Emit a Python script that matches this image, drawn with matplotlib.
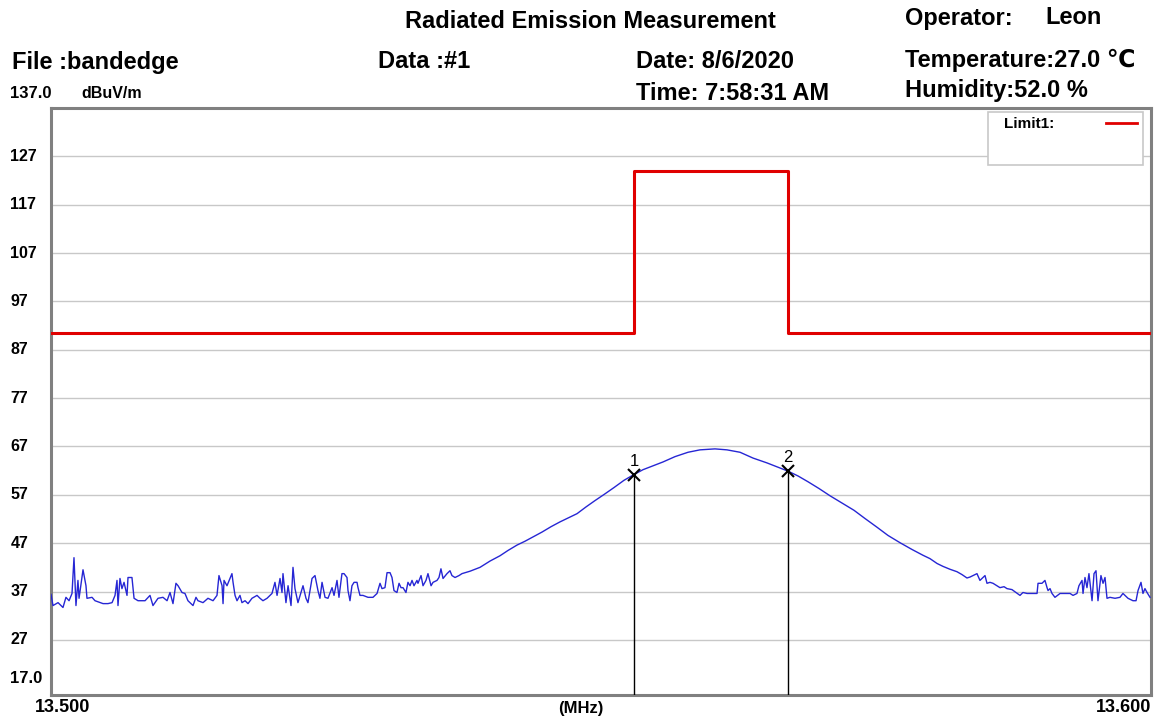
import matplotlib
matplotlib.use("Agg")
import matplotlib.pyplot as plt
import numpy as np

plt.rcParams["font.family"] = ["Liberation Sans", "DejaVu Sans"]

# measured trace: frequency offset from 13.500 MHz (kHz) and level (dBuV/m)
trace_khz = [
    0.00, 0.18, 0.64, 1.09, 1.36, 1.64, 1.91, 2.09, 2.27, 2.45, 2.55, 2.91, 3.18, 3.27,
    3.73, 4.00, 4.73, 5.18, 5.55, 5.82, 6.00, 6.09, 6.27, 6.45, 6.64, 6.91, 7.00, 7.36,
    7.55, 7.91, 8.55, 9.00, 9.27, 9.73, 10.18, 10.55, 10.82, 11.09, 11.36, 11.55, 11.91,
    12.18, 12.45, 12.91, 13.18, 13.36, 13.82, 14.27, 14.73, 15.09, 15.27, 15.55, 15.64,
    15.73, 16.00, 16.27, 16.45, 16.55, 16.73, 16.91, 17.18, 17.36, 17.64, 17.91, 18.27,
    18.73, 19.00, 19.27, 19.64, 20.09, 20.36, 20.55, 20.82, 21.00, 21.09, 21.36, 21.55,
    21.82, 22.00, 22.18, 22.45, 22.91, 23.18, 23.36, 23.73, 24.00, 24.27, 24.45, 24.64,
    24.91, 25.18, 25.55, 25.73, 26.00, 26.18, 26.45, 26.64, 26.91, 27.00, 27.18, 27.36,
    27.55, 27.82, 27.91, 28.09, 28.36, 28.82, 29.27, 29.64, 29.91, 30.09, 30.36, 30.55,
    30.82, 31.00, 31.18, 31.45, 31.64, 31.82, 32.00, 32.27, 32.45, 32.64, 32.82, 33.00,
    33.27, 33.36, 33.64, 33.82, 34.09, 34.27, 34.55, 34.73, 35.09, 35.27, 35.45, 35.64,
    36.00, 36.27, 36.45, 36.73, 37.09, 37.36,
    38.09, 39.00, 39.91, 40.82, 41.55, 42.36, 43.09, 43.91, 44.64, 45.45, 46.27, 47.00,
    47.82, 48.64, 49.45, 50.36, 51.18, 52.09, 53.00, 53.82, 54.73, 55.64, 56.73, 57.91,
    59.00, 60.36, 61.45, 62.64, 63.82, 65.09, 66.09, 67.00, 67.91, 68.82, 69.82, 70.82,
    71.91, 73.00, 74.00, 75.09, 76.09, 77.18, 78.27, 79.27, 79.91, 80.55, 81.09, 81.73,
    82.36, 82.82, 83.27, 83.55, 83.82, 84.18, 84.45, 84.91, 85.09, 85.36, 85.64, 86.00,
    86.27, 86.64, 86.91, 87.36, 87.73, 88.09, 88.36, 88.73, 89.18, 89.64, 89.73, 90.09,
    90.36, 90.55, 90.64, 90.82, 91.00, 91.27, 91.73, 92.18, 92.64, 92.91, 93.27, 93.45,
    93.73, 93.82, 94.00, 94.18, 94.36, 94.64, 94.82, 95.00, 95.18, 95.45, 95.64, 95.82,
    96.00, 96.27, 96.73, 97.18, 97.45, 97.91, 98.36, 98.64, 98.82, 99.09, 99.27, 99.45,
    99.64, 99.91,
]
trace_level = [
    36.4, 34.1, 34.7, 33.7, 35.8, 35.1, 36.6, 44.0, 34.1, 39.3, 35.6, 41.5, 38.2, 35.6,
    35.8, 35.1, 34.5, 34.5, 34.7, 36.2, 39.3, 34.1, 39.7, 37.6, 38.9, 36.2, 39.9, 39.9,
    35.6, 35.1, 35.1, 36.2, 34.1, 35.6, 35.8, 35.1, 36.8, 34.5, 38.7, 38.2, 36.8,
    36.6, 35.1, 34.1, 35.8, 35.1, 34.7, 35.6, 35.1, 36.2, 40.3, 38.2, 34.5,
    39.3, 38.2, 39.7, 40.7, 38.9, 36.2, 35.1, 36.2, 34.7, 35.1, 34.5, 35.6,
    36.2, 35.6, 35.1, 35.6, 36.6, 38.9, 36.2, 39.7, 36.8, 40.7, 34.7, 38.2,
    34.1, 42.0, 37.6, 34.7, 38.2, 35.6, 34.7, 39.7, 40.3, 37.2, 35.6, 38.9,
    35.8, 35.6, 37.8, 36.2, 39.3, 35.8, 40.7, 40.7, 39.9, 37.2, 35.1, 38.2,
    38.9, 38.9, 37.8, 36.2, 36.2, 35.8, 35.8, 36.6, 38.7, 37.6, 37.8, 40.9,
    40.9, 39.9, 37.2, 36.8, 38.7, 37.8, 37.8, 36.8, 38.9, 38.2, 39.3, 38.2,
    39.3, 38.7, 40.3, 38.2, 39.3, 40.7, 38.2, 38.9, 39.3, 39.9, 41.7, 39.7,
    40.7, 41.3, 40.3, 39.9, 40.3, 40.7,
    41.2, 42.0, 43.3, 44.4, 45.5, 46.6, 47.4, 48.4, 49.3, 50.4, 51.4, 52.2,
    53.1, 54.5, 55.8, 57.2, 58.5, 60.0, 61.2, 62.2, 63.0, 63.8, 64.9, 65.8,
    66.3, 66.5, 66.3, 65.8, 64.6, 63.6, 62.7, 61.9, 60.9, 59.7, 58.3, 56.8,
    55.3, 53.8, 52.1, 50.3, 48.6, 47.1, 45.7, 44.5, 43.8, 42.8, 42.2, 41.6,
    41.1, 40.5, 39.8, 40.0, 40.3, 40.7, 39.3, 40.3, 38.7, 38.9, 38.7, 38.2,
    37.8, 38.0, 37.6, 37.4, 36.8, 36.2, 36.8, 36.6, 36.6, 36.6, 38.7, 38.7,
    39.3, 37.8, 37.2, 37.6, 36.6, 35.8, 36.6, 36.6, 36.6, 36.2, 36.6, 38.2,
    39.3, 36.6, 39.9, 37.8, 40.7, 35.1, 40.7, 41.3, 35.1, 40.3, 38.7, 39.9,
    35.6, 35.8, 35.6, 35.8, 36.6, 35.6, 35.1, 35.1, 37.2, 38.9, 36.6, 37.6,
    36.8, 35.8,
]

# limit line (step)
limit_freq = [13.500, 13.553, 13.553, 13.567, 13.567, 13.600]
limit_level = [90.5, 90.5, 124.0, 124.0, 90.5, 90.5]

# markers
marker_freq = [13.553, 13.567]
marker_level = [61.2, 61.9]
marker_label = ["1", "2"]

y_ticks = [27, 37, 47, 57, 67, 77, 87, 97, 107, 117, 127]
y_top, y_bottom = 137.0, 15.6

trace_freq = 13.5 + np.array(trace_khz) / 1000

fig = plt.figure(figsize=(11.67, 7.2), dpi=100)
ax = fig.add_axes([51 / 1167, 1 - 695 / 720, 1100 / 1167, 587 / 720])

ax.set_xlim(13.5, 13.6)
ax.set_ylim(y_bottom, y_top)
for v in y_ticks:
    ax.axhline(v, color="#c8c8c8", lw=1, zorder=0)
ax.set_xticks([])
ax.set_yticks([])
for s in ax.spines.values():
    s.set_color("#808080")
    s.set_linewidth(2.2)

ax.plot(limit_freq, limit_level, color="#e00000", lw=2.2, zorder=3)
ax.plot(trace_freq, trace_level, color="#2626d4", lw=1.0, zorder=4)

for f, lv, lab in zip(marker_freq, marker_level, marker_label):
    ax.plot([f, f], [y_bottom, lv], color="black", lw=1.0, zorder=5)
    ax.plot(f, lv, marker="x", color="black", ms=8, mew=1.5, zorder=6)
    ax.text(f, lv + 1.2, lab, ha="center", va="bottom", fontsize=12, zorder=6)

# y labels
for v in y_ticks:
    ax.text(-0.037, v, str(v), transform=ax.get_yaxis_transform(), ha="left",
            va="center", fontsize=11.5, fontweight="bold")
ax.text(-0.037, 19.0, "17.0", transform=ax.get_yaxis_transform(), ha="left",
        va="center", fontsize=12, fontweight="bold")

# legend box
fig.patches.append(plt.Rectangle((988 / 1167, 1 - 165 / 720), 155 / 1167, 53 / 720,
                                 transform=fig.transFigure, fill=True, fc="white",
                                 ec="#c8c8c8", lw=1.2, zorder=10))
fig.text(1004 / 1167, 1 - 124 / 720, "Limit1:", fontsize=11, fontweight="bold",
         va="center", ha="left", zorder=11)
fig.add_artist(plt.Line2D([1106 / 1167, 1137 / 1167], [1 - 123 / 720, 1 - 123 / 720],
                          color="#e00000", lw=2, zorder=11))

def top_text(x, y, s, size=17, ha="left"):
    fig.text(x / 1167, 1 - y / 720, s, fontsize=size, fontweight="bold",
             ha=ha, va="center")

top_text(590, 21, "Radiated Emission Measurement", ha="center")
top_text(905, 18, "Operator:")
top_text(1045, 18, "Leon")
top_text(12, 62, "File :bandedge")
top_text(378, 61, "Data :#1")
top_text(636, 62, "Date: 8/6/2020")
top_text(905, 60, "Temperature:27.0 \u2103")
top_text(636, 93, "Time: 7:58:31 AM")
top_text(905, 90, "Humidity:52.0 %")
top_text(10, 93, "137.0", size=12)
top_text(81, 93, "dBuV/m", size=11.5)
top_text(63, 708, "13.500", size=13, ha="center")
top_text(581, 708, "(MHz)", size=12, ha="center")
top_text(1124, 708, "13.600", size=13, ha="center")

fig.savefig("out.png", dpi=100, facecolor="white")
